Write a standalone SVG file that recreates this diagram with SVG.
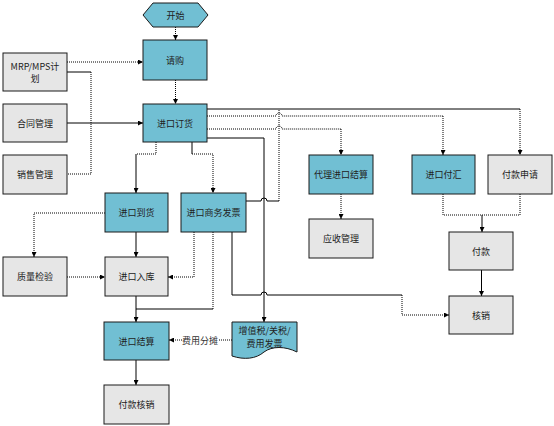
<svg xmlns="http://www.w3.org/2000/svg" width="554" height="426" viewBox="0 0 554 426">
<defs>
<marker id="ar" viewBox="0 0 6 6" refX="6" refY="3" markerWidth="5" markerHeight="5" orient="auto" markerUnits="userSpaceOnUse">
<path d="M0,0 L6,3 L0,6 z" fill="#000"/>
</marker>
</defs>
<style>
.b{fill:#71bfd3;stroke:#1a1a1a;stroke-width:1}
.g{fill:#e6e6e6;stroke:#1a1a1a;stroke-width:1}
.t{font-family:"Noto Sans CJK SC","Noto Sans",sans-serif;font-size:9px;fill:#222;text-anchor:middle;dominant-baseline:central}
.s{fill:none;stroke:#000;stroke-width:1}
.d{fill:none;stroke:#000;stroke-width:1;stroke-dasharray:1 1}
.a{marker-end:url(#ar)}
</style>
<rect width="554" height="426" fill="#fff"/>
<g id="connectors">
<path class="d a" d="M175.5,27 V40"/>
<path class="d a" d="M175.5,80 V104"/>
<path class="d a" d="M67,62 H143"/>
<path class="s" d="M67,72 H91"/>
<path class="d" d="M91,72 V174 H67"/>
<path class="s a" d="M67,123 H143"/>
<path class="d" d="M156,142 V154 H136"/>
<path class="s a" d="M136,154 V193"/>
<path class="s" d="M192,142 V154"/>
<path class="d a" d="M192,154 H213 V193"/>
<path class="d a" d="M105,213 H34 V257"/>
<path class="s a" d="M136,232 V257"/>
<path class="d a" d="M67,277 H105"/>
<path class="d a" d="M194,232 V277 H168"/>
<path class="s a" d="M136,296 V322"/>
<path class="d" d="M213,232 V309"/>
<path class="s" d="M213,309 H136"/>
<path class="s" d="M232,232 V295 H261 a3,3 0 0 1 6,0 H402"/>
<path class="d a" d="M402,295 V315 H449"/>
<path class="s" d="M207,138 H264"/>
<path class="s a" d="M264,138 V322"/>
<path class="s" d="M246,201 H261 a3,3 0 0 1 6,0 H279"/>
<path class="d" d="M279,201 V109"/>
<path class="s" d="M207,109 H520"/>
<path class="d a" d="M520,109 V155"/>
<path class="d" d="M207,116 H276 a3,3 0 0 1 6,0 H443"/>
<path class="d a" d="M443,116 V155"/>
<path class="d" d="M207,129 H276 a3,3 0 0 1 6,0 H341"/>
<path class="d a" d="M341,129 V155"/>
<path class="d a" d="M341,194 V219"/>
<path class="d" d="M443,194 V215 H482"/>
<path class="d" d="M520,194 V215 H482"/>
<path class="s a" d="M482,215 V232"/>
<path class="s a" d="M481.5,270 V296"/>
<path class="d a" d="M232,340 H169"/>
<path class="s a" d="M136,360 V385"/>
<rect x="182" y="334" width="37" height="12" fill="#fff"/>
<text class="t" x="200" y="340" style="fill:#333">费用分摊</text>
</g>
<g id="start"><path class="b" d="M143,15 L153,3 H198 L208,15 L198,27 H153 Z"/><text class="t" x="175.5" y="15">开始</text></g>
<g id="qinggou"><rect class="b" x="143" y="40" width="64" height="40"/><text class="t" x="175" y="60">请购</text></g>
<g id="mrp"><rect class="g" x="3" y="53" width="64" height="38"/><text class="t" x="35" y="66">MRP/MPS计</text><text class="t" x="35" y="78">划</text></g>
<g id="hetong"><rect class="g" x="3" y="104" width="64" height="38"/><text class="t" x="35" y="123">合同管理</text></g>
<g id="xiaoshou"><rect class="g" x="3" y="155" width="64" height="39"/><text class="t" x="35" y="174">销售管理</text></g>
<g id="dinghuo"><rect class="b" x="143" y="104" width="64" height="38"/><text class="t" x="175" y="123">进口订货</text></g>
<g id="daohuo"><rect class="b" x="105" y="193" width="63" height="39"/><text class="t" x="136.5" y="212.5">进口到货</text></g>
<g id="fapiao"><rect class="b" x="181" y="193" width="65" height="39"/><text class="t" x="213.5" y="212.5">进口商务发票</text></g>
<g id="zhijian"><rect class="g" x="3" y="257" width="64" height="39"/><text class="t" x="35" y="276.5">质量检验</text></g>
<g id="ruku"><rect class="g" x="105" y="257" width="63" height="39"/><text class="t" x="136.5" y="276.5">进口入库</text></g>
<g id="jiesuan"><rect class="b" x="104" y="322" width="65" height="38"/><text class="t" x="136.5" y="341">进口结算</text></g>
<g id="hexiao1"><rect class="g" x="104" y="385" width="65" height="39"/><text class="t" x="136.5" y="404.5">付款核销</text></g>
<g id="shuipiao"><path class="b" d="M232,322 H297 V352 C285,346 272,346 264,352 C256,359 244,360 232,356 Z"/><text class="t" x="264.5" y="330">增值税/关税/</text><text class="t" x="264.5" y="343">费用发票</text></g>
<g id="daili"><rect class="b" x="309" y="155" width="64" height="39"/><text class="t" x="341" y="174.5">代理进口结算</text></g>
<g id="yingshou"><rect class="g" x="309" y="219" width="64" height="39"/><text class="t" x="341" y="238.5">应收管理</text></g>
<g id="fuhui"><rect class="b" x="412" y="155" width="63" height="39"/><text class="t" x="443.5" y="174.5">进口付汇</text></g>
<g id="shenqing"><rect class="g" x="488" y="155" width="64" height="39"/><text class="t" x="520" y="174.5">付款申请</text></g>
<g id="fukuan"><rect class="g" x="449" y="232" width="64" height="38"/><text class="t" x="481" y="251">付款</text></g>
<g id="hexiao2"><rect class="g" x="449" y="296" width="64" height="38"/><text class="t" x="481" y="315">核销</text></g>
</svg>
